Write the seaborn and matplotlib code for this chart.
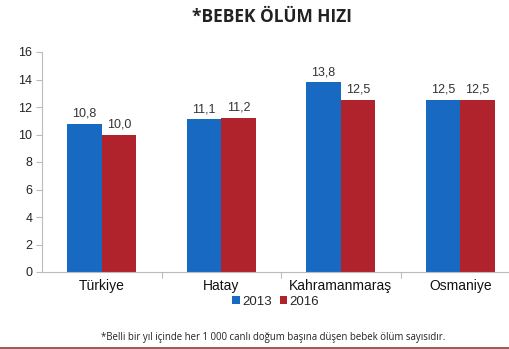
import matplotlib
matplotlib.use("Agg")
import matplotlib.pyplot as plt
import seaborn as sns
import pandas as pd
from matplotlib.lines import Line2D

categories = ["Türkiye", "Hatay", "Kahramanmaraş", "Osmaniye"]
values_2013 = [10.8, 11.1, 13.8, 12.5]
values_2016 = [10.0, 11.2, 12.5, 12.5]
years = ["2013", "2016"]
yticks = [0, 2, 4, 6, 8, 10, 12, 14, 16]

df = pd.DataFrame({
    "Bölge": categories * 2,
    "Yıl": [years[0]] * 4 + [years[1]] * 4,
    "Değer": values_2013 + values_2016,
})

sns.set_style("white")
plt.rcParams["font.family"] = ["Liberation Sans", "DejaVu Sans"]

fig = plt.figure(figsize=(5.09, 3.49), dpi=100)
ax = fig.add_axes([42 / 509, 77 / 349, 478 / 509, 220 / 349])

blue = "#1769c2"
red = "#b0222c"
sns.barplot(data=df, x="Bölge", y="Değer", hue="Yıl", order=categories,
            hue_order=years, palette=[blue, red], width=0.576, gap=0,
            saturation=1, linewidth=0, edgecolor="none", ax=ax, legend=True)

for cont in ax.containers:
    labels = [f"{b.get_height():.1f}".replace(".", ",") for b in cont]
    ax.bar_label(cont, labels=labels, padding=3, fontsize=9, color="#333333")

ax.set_xlim(-0.5, 3.5)
ax.set_ylim(0, 16)
ax.set_yticks(yticks)
ax.set_yticklabels([str(t) for t in yticks], fontsize=9, color="#222222")
ax.set_xlabel("")
ax.set_ylabel("")
ax.tick_params(axis="x", length=0, pad=5, labelsize=10, labelcolor="#111111")
ax.tick_params(axis="y", length=4, width=0.8, color="#bbbbbb", left=True, pad=3)
ax.set_xticks([0.5, 1.5, 2.5], minor=True)
ax.tick_params(axis="x", which="minor", length=4, width=0.8, color="#bbbbbb", bottom=True)

for side in ["top", "right"]:
    ax.spines[side].set_visible(False)
for side in ["left", "bottom"]:
    ax.spines[side].set_color("#bbbbbb")
    ax.spines[side].set_linewidth(0.8)

handles, labs = ax.get_legend_handles_labels()
ax.get_legend().remove()
fig.legend(handles, labs, loc="center", bbox_to_anchor=(0.542, 0.135), ncol=2,
           frameon=False, fontsize=9.5, handlelength=0.55, handleheight=0.55,
           handletextpad=0.2, columnspacing=0.6)

fig.text(0.535, 0.951, "*BEBEK ÖLÜM HIZI", ha="center", va="center",
         fontsize=12.5, fontweight="bold", color="#222222", family=["Open Sans", "DejaVu Sans"])
fig.text(0.537, 0.032, "*Belli bir yıl içinde her 1 000 canlı doğum başına düşen bebek ölüm sayısıdır.",
         ha="center", va="center", fontsize=6.9, color="#222222", family=["Open Sans", "DejaVu Sans"])

fig.add_artist(Line2D([0, 1], [0.004, 0.004], transform=fig.transFigure,
                      color="#8e3b3f", linewidth=1.2))

fig.savefig("out.png", dpi=100)
